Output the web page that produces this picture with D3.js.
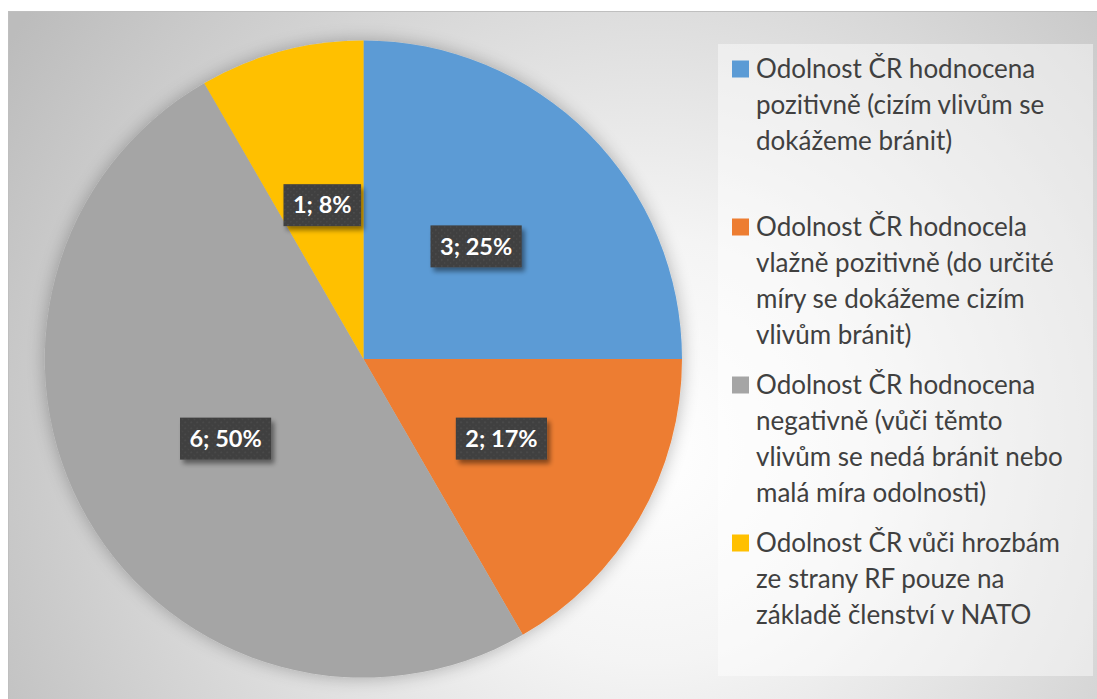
<!DOCTYPE html>
<html>
<head>
<meta charset="utf-8">
<script src="https://cdn.jsdelivr.net/npm/d3@7"></script>
<style>
  html, body { margin: 0; padding: 0; background: #ffffff; }
  svg { display: block; }
</style>
</head>
<body>
<svg id="chart" width="1097" height="699"></svg>
<script>
// ---- data ----
const categories = [
  "Odolnost ČR hodnocena pozitivně (cizím vlivům se dokážeme bránit)",
  "Odolnost ČR hodnocela vlažně pozitivně (do určité míry se dokážeme cizím vlivům bránit)",
  "Odolnost ČR hodnocena negativně (vůči těmto vlivům se nedá bránit nebo malá míra odolnosti)",
  "Odolnost ČR vůči hrozbám ze strany RF pouze na základě členství v NATO"
];
const legendLines = [
  ["Odolnost ČR hodnocena", "pozitivně (cizím vlivům se", "dokážeme bránit)"],
  ["Odolnost ČR hodnocela", "vlažně pozitivně (do určité", "míry se dokážeme cizím", "vlivům bránit)"],
  ["Odolnost ČR hodnocena", "negativně (vůči těmto", "vlivům se nedá bránit nebo", "malá míra odolnosti)"],
  ["Odolnost ČR vůči hrozbám", "ze strany RF pouze na", "základě členství v NATO"]
];
const values = [3, 2, 6, 1];
const colors = ["#5b9bd5", "#ed7d31", "#a5a5a5", "#ffc000"];

// ---- layout ----
const W = 1097, H = 699;
const cx = 363.5, cy = 359, R = 318.5;
const svg = d3.select("#chart");
const defs = svg.append("defs");

// background gradient
const bg = defs.append("radialGradient").attr("id", "bgGrad")
  .attr("gradientUnits", "userSpaceOnUse")
  .attr("cx", 650).attr("cy", 450).attr("r", 760)
  .attr("fx", 650).attr("fy", 450);
bg.append("stop").attr("offset", 0).attr("stop-color", "#ffffff");
bg.append("stop").attr("offset", 0.28).attr("stop-color", "#f4f4f4");
bg.append("stop").attr("offset", 1).attr("stop-color", "#bcbcbc");

// pie shadow
const ps = defs.append("filter").attr("id", "pieShadow")
  .attr("x", "-20%").attr("y", "-20%").attr("width", "140%").attr("height", "140%");
ps.append("feGaussianBlur").attr("in", "SourceAlpha").attr("stdDeviation", 9).attr("result", "b");
ps.append("feComponentTransfer").attr("in", "b").attr("result", "bo")
  .append("feFuncA").attr("type", "linear").attr("slope", 0.28);
const psm = ps.append("feMerge");
psm.append("feMergeNode").attr("in", "bo");
psm.append("feMergeNode").attr("in", "SourceGraphic");

// label shadow
const ls = defs.append("filter").attr("id", "lblShadow")
  .attr("x", "-20%").attr("y", "-30%").attr("width", "150%").attr("height", "170%");
ls.append("feGaussianBlur").attr("in", "SourceAlpha").attr("stdDeviation", 2.5).attr("result", "b");
ls.append("feOffset").attr("in", "b").attr("dx", 3).attr("dy", 4).attr("result", "o");
ls.append("feComponentTransfer").attr("in", "o").attr("result", "oo")
  .append("feFuncA").attr("type", "linear").attr("slope", 0.45);
const lsm = ls.append("feMerge");
lsm.append("feMergeNode").attr("in", "oo");
lsm.append("feMergeNode").attr("in", "SourceGraphic");

// dotted pattern for label boxes
const pat = defs.append("pattern").attr("id", "dots")
  .attr("patternUnits", "userSpaceOnUse").attr("width", 6).attr("height", 6);
pat.append("rect").attr("width", 6).attr("height", 6).attr("fill", "#404040");
pat.append("rect").attr("x", 1).attr("y", 1).attr("width", 1.3).attr("height", 1.3).attr("fill", "#525252");
pat.append("rect").attr("x", 4).attr("y", 4).attr("width", 1.3).attr("height", 1.3).attr("fill", "#4b4b4b");

// chart area
svg.append("rect").attr("x", 8.5).attr("y", 11.5).attr("width", W).attr("height", H)
  .attr("fill", "url(#bgGrad)").attr("stroke", "#bfbfbf").attr("stroke-width", 1);

// pie
const pie = d3.pie().sort(null).value(d => d);
const arcs = pie(values);
const total = d3.sum(values);
const arc = d3.arc().innerRadius(0).outerRadius(R);

const g = svg.append("g").attr("transform", `translate(${cx},${cy})`);
const slices = g.append("g").attr("filter", "url(#pieShadow)");
slices.selectAll("path").data(arcs).join("path")
  .attr("d", arc)
  .attr("fill", (d, i) => colors[i]);

// data labels
const lblG = g.append("g");
arcs.forEach((d, i) => {
  const [x, y] = arc.centroid(d);
  const txt = `${values[i]}; ${Math.round(values[i] / total * 100)}%`;
  const lg = lblG.append("g").attr("transform", `translate(${x},${y})`);
  const rect = lg.append("rect").attr("fill", "url(#dots)").attr("filter", "url(#lblShadow)");
  const t = lg.append("text")
    .attr("text-anchor", "middle")
    .attr("dy", "0.35em")
    .attr("fill", "#ffffff")
    .attr("font-family", "Lato, 'Open Sans', sans-serif")
    .attr("font-weight", "bold")
    .attr("font-size", 23.5)
    .text(txt);
  const bb = t.node().getBBox();
  const w = bb.width + 19, h = 42;
  rect.attr("x", -w / 2).attr("y", -h / 2).attr("width", w).attr("height", h);
});

// legend
svg.append("rect").attr("x", 718).attr("y", 44).attr("width", 375).attr("height", 632)
  .attr("fill", "#ffffff").attr("fill-opacity", 0.45);

const legendY = d3.scalePoint().domain(d3.range(categories.length)).range([69, 69 + 158 * 3]);
const leg = svg.append("g");
categories.forEach((c, i) => {
  const y0 = legendY(i);
  const eg = leg.append("g");
  eg.append("rect").attr("x", 732).attr("y", y0 - 8.5).attr("width", 17).attr("height", 17)
    .attr("fill", colors[i]);
  const t = eg.append("text")
    .attr("font-family", "Lato, 'Open Sans', sans-serif")
    .attr("font-size", 26)
    .attr("fill", "#404040");
  legendLines[i].forEach((ln, j) => {
    t.append("tspan").attr("x", 756).attr("y", y0 + 9 + j * 36).text(ln);
  });
  eg.append("title").text(c);
});
</script>
</body>
</html>
